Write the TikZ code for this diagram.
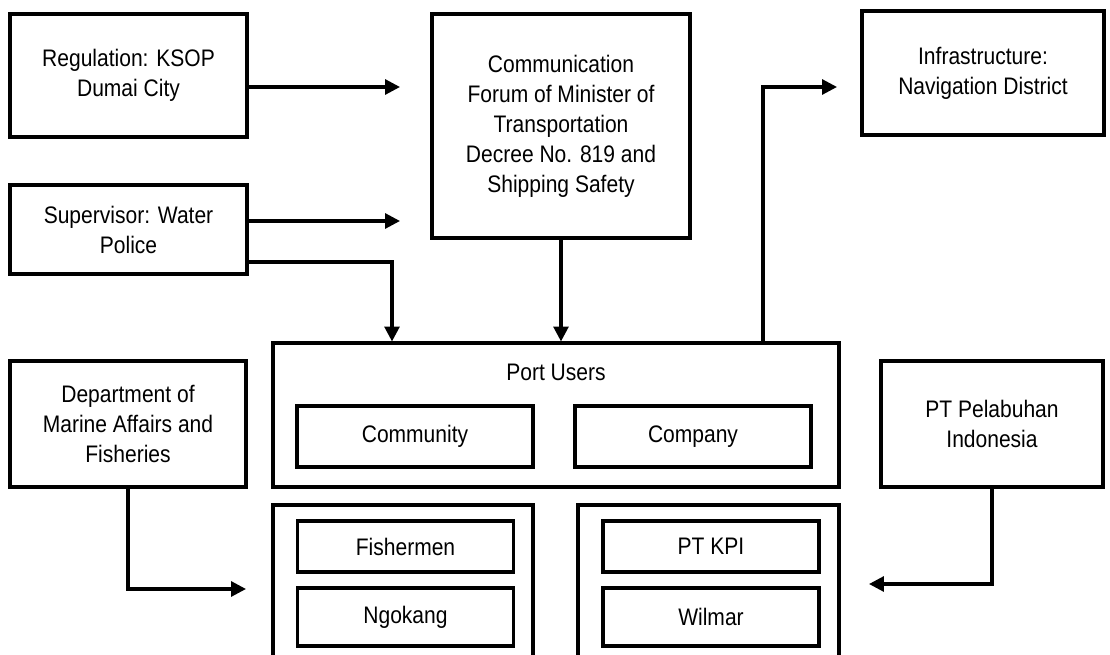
\documentclass[tikz,border=0pt]{standalone}
\usepackage{fontspec}
\setmainfont[FakeStretch=0.88]{Liberation Sans}
\usepackage{tikz}
\usetikzlibrary{arrows.meta}

\begin{document}
\begin{tikzpicture}[
    every node/.style={font=\fontsize{17}{21.3}\selectfont},
    unitbox/.style={
        draw, line width=2.2pt, align=center, inner sep=0pt
    },
    groupbox/.style={draw, line width=2.2pt, inner sep=0pt},
    arrow/.style={-{Triangle[length=3.7mm, width=3.7mm]}, line width=2.2pt},
]
    % page frame (lower boxes run off the bottom edge)
    \useasboundingbox (0,0) rectangle (27.75,-16.375);
    \clip (0,0) rectangle (27.75,-16.375);

    % outer boxes
    \node[unitbox, minimum width=5.925cm, minimum height=3.075cm] (reg) at (3.2125,-1.8875)
        {Regulation: KSOP\\Dumai City};
    \node[unitbox, minimum width=5.925cm, minimum height=2.225cm] (sup) at (3.2125,-5.7375)
        {Supervisor: Water\\Police};
    \node[unitbox, minimum width=6.45cm, minimum height=5.6cm] (comm) at (14.025,-3.15)
        {Communication\\Forum of Minister of\\Transportation\\Decree No. 819 and\\Shipping Safety};
    \node[unitbox, minimum width=6.05cm, minimum height=3.1cm] (infra) at (24.575,-1.825)
        {Infrastructure:\\Navigation District};
    \node[unitbox, minimum width=5.9cm, minimum height=3.15cm] (dept) at (3.2,-10.6)
        {Department of\\Marine Affairs and\\Fisheries};
    \node[unitbox, minimum width=5.55cm, minimum height=3.15cm] (ptpel) at (24.8,-10.6)
        {PT Pelabuhan\\Indonesia};

    % port users group
    \node[groupbox, minimum width=14.15cm, minimum height=3.6cm] (ports) at (13.9,-10.375) {};
    \node (portlbl) at (13.9,-9.3) {Port Users};
    \node[unitbox, minimum width=5.9cm, minimum height=1.525cm] (community) at (10.375,-10.9125) {Community};
    \node[unitbox, minimum width=5.9cm, minimum height=1.525cm] (company) at (17.325,-10.9125) {Company};

    % lower groups
    \node[groupbox, minimum width=6.5cm, minimum height=4.375cm] (lowleft) at (10.075,-14.8125) {};
    \node[groupbox, minimum width=6.525cm, minimum height=4.375cm] (lowright) at (17.7125,-14.8125) {};
    \foreach \nm/\x/\y/\h/\txt in {fisher/10.1375/-13.6625/1.275/Fishermen,
                                   ngokang/10.1375/-15.425/1.45/Ngokang,
                                   ptkpi/17.775/-13.6625/1.275/PT KPI,
                                   wilmar/17.775/-15.425/1.45/Wilmar}
      \node[unitbox, minimum width=5.4cm, minimum height=\h cm] (\nm) at (\x,\y) {\txt};

    % arrow ends
    \coordinate (regin) at (10,-2.175);
    \coordinate (supin) at (10,-5.525);
    \coordinate (infrain) at (20.925,-2.175);
    \coordinate (deptin) at (6.15,-14.725);
    \coordinate (ptin) at (21.725,-14.6);

    % connectors
    \draw[arrow] (reg.east |- regin) -- (regin);
    \draw[arrow] (sup.east |- supin) -- (supin);
    \draw[arrow] ([yshift=-0.8125cm]sup.east) -| ([xshift=-4.1cm]ports.north);
    \draw[arrow] (comm.south) -- (comm.south |- ports.north);
    \draw[arrow] ([xshift=5.175cm]ports.north) |- (infrain);
    \draw[arrow] (dept.south) |- (deptin);
    \draw[arrow] (ptpel.south) |- (ptin);
\end{tikzpicture}
\end{document}
